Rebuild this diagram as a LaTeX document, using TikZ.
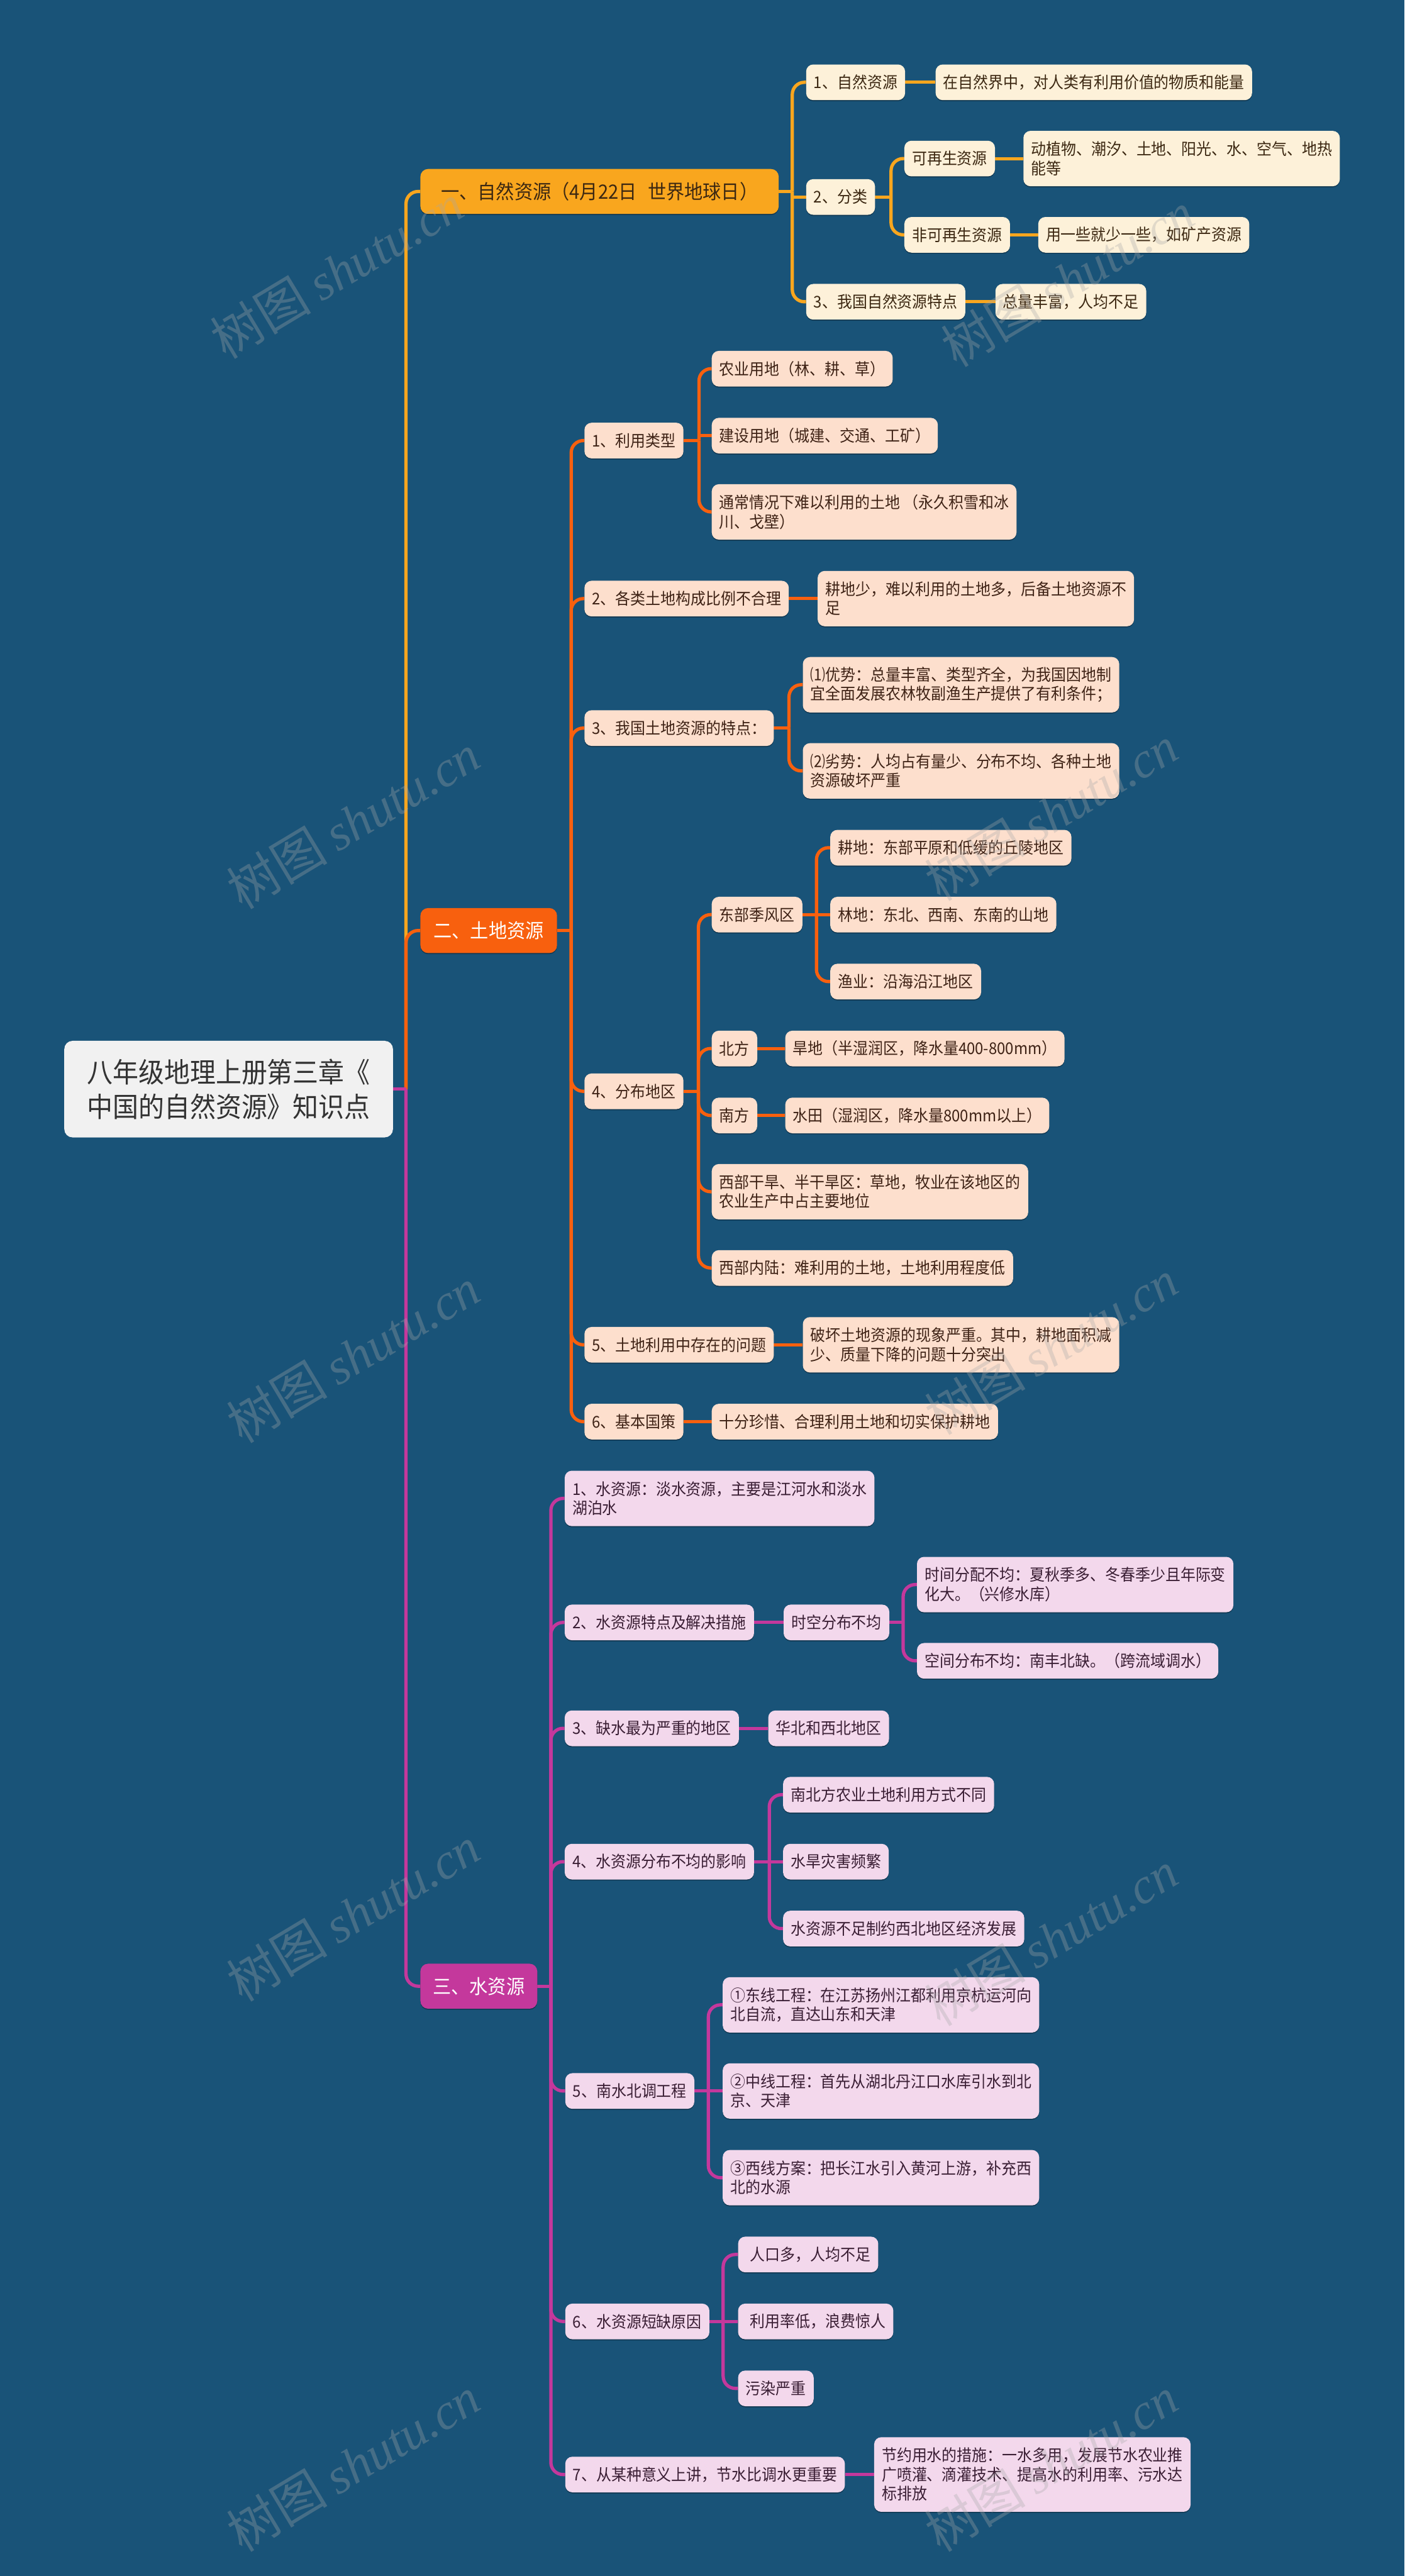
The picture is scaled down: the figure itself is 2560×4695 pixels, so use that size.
\documentclass[tikz,border=0pt]{standalone}
\usepackage{fontspec}
\setmainfont{Noto Sans CJK SC}[FakeStretch=0.93]
\newfontfamily\wmserif{Liberation Serif}
\newfontfamily\wmcjk{Noto Sans CJK SC}
\usetikzlibrary{shadows}
\definecolor{bgc}{HTML}{195378}
\definecolor{gold}{HTML}{F9A61E}
\definecolor{orng}{HTML}{F8600E}
\definecolor{mag}{HTML}{C4389C}
\definecolor{cream}{HTML}{FDF1D9}
\definecolor{peach}{HTML}{FDDFCD}
\definecolor{pinkf}{HTML}{F3D8EC}
\definecolor{rootfill}{HTML}{F1F1F1}
\definecolor{txtA}{HTML}{3C2812}
\definecolor{txtB}{HTML}{3F2316}
\definecolor{txtC}{HTML}{3A1E34}
\definecolor{wmc}{HTML}{A8A8A8}
\newcommand{\fsK}{\fontsize{29.5pt}{35pt}\selectfont}
\newcommand{\fsM}{\fontsize{36pt}{42pt}\selectfont}
\newcommand{\fsR}{\fontsize{50.5pt}{63pt}\selectfont}
\newcommand{\fsW}{\fontsize{92pt}{92pt}\selectfont}
\newcommand{\mmlink}[4]{%
  \draw[#1] (#2.east) -- (#3 |- #2.east);
  \draw[#1, rounded corners=22pt] (#3 |- #2.east) |- (#4.west);}
\newcommand{\mmflat}[3]{\draw[#1] (#2.east) -- (#3.west |- #2.east);}
\newcommand{\mmmid}[4]{%
  \draw[#1] (#2.east) -- (#3 |- #2.east);
  \draw[#1] (#3 |- #4.west) -- (#4.west);}
\pgfdeclarelayer{back}
\pgfdeclarelayer{lines}
\pgfsetlayers{back,lines,main}
\begin{document}
\begin{tikzpicture}[x=1pt,y=-1pt,
  box/.style={rounded corners=13pt, inner xsep=14pt, inner ysep=3pt, anchor=west, align=left, font=\fsK,
              drop shadow={shadow xshift=0pt, shadow yshift=-2pt, opacity=0.3, fill=black}},
  l1/.style={minimum height=65pt},
  l2/.style={minimum height=101pt},
  l3/.style={minimum height=136pt},
  kidA/.style={box, l1, fill=cream, text=txtA},
  kidB/.style={box, l1, fill=peach, text=txtB},
  kidC/.style={box, l1, fill=pinkf, text=txtC},
  mainbox/.style={rounded corners=14pt, inner xsep=8pt, anchor=west, font=\fsM, minimum height=82pt,
              drop shadow={shadow xshift=0pt, shadow yshift=-2pt, opacity=0.3, fill=black}},
  lnA/.style={draw=gold, line width=6pt},
  lnB/.style={draw=orng, line width=6pt},
  lnC/.style={draw=mag, line width=6pt},
  wm/.style={text=wmc, opacity=0.32, font=\fsW, rotate=31, inner sep=0pt}]
\useasboundingbox (0,0) rectangle (2560,4695);
\begin{pgfonlayer}{back}
\fill[bgc] (0,0) rectangle (2560,4695);
\end{pgfonlayer}

% root and main branches
\node[rounded corners=15pt, fill=rootfill, text=black!80, font=\fsR, align=center, anchor=west,
      minimum width=599pt, minimum height=176pt] (root) at (117,1985)
      {八年级地理上册第三章《\\中国的自然资源》知识点};
\node[mainbox, fill=gold, text=txtA, minimum width=653pt] (m1) at (766,349)
      {一、自然资源（4月22日\hspace{0.55em}世界地球日）};
\node[mainbox, fill=orng, text=white, minimum width=249pt] (m2) at (766,1696) {二、土地资源};
\node[mainbox, fill=mag, text=white, minimum width=213pt] (m3) at (766,3620) {三、水资源};

% branch 1
\node[kidA] (a1) at (1469,150) {1、自然资源};
\node[kidA] (a1d) at (1705,150) {在自然界中，对人类有利用价值的物质和能量};
\node[kidA] (a2) at (1469,359) {2、分类};
\node[kidA] (a21) at (1648,289) {可再生资源};
\node[kidA, l2] (a21d) at (1865,289) {动植物、潮汐、土地、阳光、水、空气、地热\\能等};
\node[kidA] (a22) at (1648,428) {非可再生资源};
\node[kidA] (a22d) at (1892,428) {用一些就少一些，如矿产资源};
\node[kidA] (a3) at (1469,550) {3、我国自然资源特点};
\node[kidA] (a3d) at (1814,550) {总量丰富，人均不足};

% branch 2
\node[kidB] (b1) at (1065,803) {1、利用类型};
\node[kidB] (b11) at (1297,672) {农业用地（林、耕、草）};
\node[kidB] (b12) at (1297,794) {建设用地（城建、交通、工矿）};
\node[kidB, l2] (b13) at (1297,933) {通常情况下难以利用的土地 （永久积雪和冰\\川、戈壁）};
\node[kidB] (b2) at (1065,1091) {2、各类土地构成比例不合理};
\node[kidB, l2] (b2d) at (1490,1091) {耕地少，难以利用的土地多，后备土地资源不\\足};
\node[kidB] (b3) at (1065,1327) {3、我国土地资源的特点：};
\node[kidB, l2] (b31) at (1463,1248) {⑴优势：总量丰富、类型齐全，为我国因地制\\宜全面发展农林牧副渔生产提供了有利条件；};
\node[kidB, l2] (b32) at (1463,1405) {⑵劣势：人均占有量少、分布不均、各种土地\\资源破坏严重};
\node[kidB] (b4) at (1065,1989) {4、分布地区};
\node[kidB] (b41) at (1297,1667) {东部季风区};
\node[kidB] (b411) at (1513,1545) {耕地：东部平原和低缓的丘陵地区};
\node[kidB] (b412) at (1513,1667) {林地：东北、西南、东南的山地};
\node[kidB] (b413) at (1513,1789) {渔业：沿海沿江地区};
\node[kidB] (b42) at (1297,1911) {北方};
\node[kidB] (b42d) at (1431,1911) {旱地（半湿润区，降水量400-800mm）};
\node[kidB] (b43) at (1297,2033) {南方};
\node[kidB] (b43d) at (1431,2033) {水田（湿润区，降水量800mm以上）};
\node[kidB, l2] (b44) at (1297,2172) {西部干旱、半干旱区：草地，牧业在该地区的\\农业生产中占主要地位};
\node[kidB] (b45) at (1297,2311) {西部内陆：难利用的土地，土地利用程度低};
\node[kidB] (b5) at (1065,2451) {5、土地利用中存在的问题};
\node[kidB, l2] (b5d) at (1463,2451) {破坏土地资源的现象严重。其中，耕地面积减\\少、质量下降的问题十分突出};
\node[kidB] (b6) at (1065,2591) {6、基本国策};
\node[kidB] (b6d) at (1297,2591) {十分珍惜、合理利用土地和切实保护耕地};

% branch 3
\node[kidC, l2] (c1) at (1029,2731) {1、水资源：淡水资源，主要是江河水和淡水\\湖泊水};
\node[kidC] (c2) at (1029,2957) {2、水资源特点及解决措施};
\node[kidC] (c21) at (1428,2957) {时空分布不均};
\node[kidC, l2] (c211) at (1671,2888) {时间分配不均：夏秋季多、冬春季少且年际变\\化大。（兴修水库）};
\node[kidC] (c212) at (1671,3027) {空间分布不均：南丰北缺。（跨流域调水）};
\node[kidC] (c3) at (1029,3150) {3、缺水最为严重的地区};
\node[kidC] (c3d) at (1400,3150) {华北和西北地区};
\node[kidC] (c4) at (1029,3393) {4、水资源分布不均的影响};
\node[kidC] (c41) at (1427,3271) {南北方农业土地利用方式不同};
\node[kidC] (c42) at (1427,3393) {水旱灾害频繁};
\node[kidC] (c43) at (1427,3515) {水资源不足制约西北地区经济发展};
\node[kidC] (c5) at (1030,3811) {5、南水北调工程};
\node[kidC, l2] (c51) at (1317,3654) {①东线工程：在江苏扬州江都利用京杭运河向\\北自流，直达山东和天津};
\node[kidC, l2] (c52) at (1317,3811) {②中线工程：首先从湖北丹江口水库引水到北\\京、天津};
\node[kidC, l2] (c53) at (1317,3969) {③西线方案：把长江水引入黄河上游，补充西\\北的水源};
\node[kidC] (c6) at (1030,4231) {6、水资源短缺原因};
\node[kidC] (c61) at (1345,4109) {\hspace*{8pt}人口多，人均不足};
\node[kidC] (c62) at (1345,4231) {\hspace*{8pt}利用率低，浪费惊人};
\node[kidC] (c63) at (1345,4353) {污染严重};
\node[kidC] (c7) at (1030,4510) {7、从某种意义上讲，节水比调水更重要};
\node[kidC, l3] (c7d) at (1593,4510) {节约用水的措施：一水多用，发展节水农业推\\广喷灌、滴灌技术、提高水的利用率、污水达\\标排放};

% trunk coordinates
\coordinate (T0) at (740,0);
\coordinate (TA) at (1444,0);
\coordinate (TA2) at (1624,0);
\coordinate (TB) at (1041,0);
\coordinate (TB1) at (1274,0);
\coordinate (TB3) at (1438,0);
\coordinate (TB4) at (1273,0);
\coordinate (TB41) at (1488,0);
\coordinate (TC) at (1004,0);
\coordinate (TC2) at (1646,0);
\coordinate (TC4) at (1402,0);
\coordinate (TC5) at (1291,0);
\coordinate (TC6) at (1318,0);

\begin{pgfonlayer}{lines}
\mmlink{lnA}{root}{T0}{m1}
\mmlink{lnB}{root}{T0}{m2}
\mmlink{lnC}{root}{T0}{m3}
% branch 1
\mmlink{lnA}{m1}{TA}{a1}
\mmmid{lnA}{m1}{TA}{a2}
\mmlink{lnA}{m1}{TA}{a3}
\mmflat{lnA}{a1}{a1d}
\mmlink{lnA}{a2}{TA2}{a21}
\mmlink{lnA}{a2}{TA2}{a22}
\mmflat{lnA}{a21}{a21d}
\mmflat{lnA}{a22}{a22d}
\mmflat{lnA}{a3}{a3d}
% branch 2
\mmlink{lnB}{m2}{TB}{b1}
\mmlink{lnB}{m2}{TB}{b2}
\mmlink{lnB}{m2}{TB}{b3}
\mmlink{lnB}{m2}{TB}{b4}
\mmlink{lnB}{m2}{TB}{b5}
\mmlink{lnB}{m2}{TB}{b6}
\mmlink{lnB}{b1}{TB1}{b11}
\mmmid{lnB}{b1}{TB1}{b12}
\mmlink{lnB}{b1}{TB1}{b13}
\mmflat{lnB}{b2}{b2d}
\mmlink{lnB}{b3}{TB3}{b31}
\mmlink{lnB}{b3}{TB3}{b32}
\mmlink{lnB}{b4}{TB4}{b41}
\mmlink{lnB}{b4}{TB4}{b42}
\mmlink{lnB}{b4}{TB4}{b43}
\mmlink{lnB}{b4}{TB4}{b44}
\mmlink{lnB}{b4}{TB4}{b45}
\mmlink{lnB}{b41}{TB41}{b411}
\mmflat{lnB}{b41}{b412}
\mmlink{lnB}{b41}{TB41}{b413}
\mmflat{lnB}{b42}{b42d}
\mmflat{lnB}{b43}{b43d}
\mmflat{lnB}{b5}{b5d}
\mmflat{lnB}{b6}{b6d}
% branch 3
\mmlink{lnC}{m3}{TC}{c1}
\mmlink{lnC}{m3}{TC}{c2}
\mmlink{lnC}{m3}{TC}{c3}
\mmlink{lnC}{m3}{TC}{c4}
\mmlink{lnC}{m3}{TC}{c5}
\mmlink{lnC}{m3}{TC}{c6}
\mmlink{lnC}{m3}{TC}{c7}
\mmflat{lnC}{c2}{c21}
\mmlink{lnC}{c21}{TC2}{c211}
\mmlink{lnC}{c21}{TC2}{c212}
\mmflat{lnC}{c3}{c3d}
\mmlink{lnC}{c4}{TC4}{c41}
\mmflat{lnC}{c4}{c42}
\mmlink{lnC}{c4}{TC4}{c43}
\mmlink{lnC}{c5}{TC5}{c51}
\mmflat{lnC}{c5}{c52}
\mmlink{lnC}{c5}{TC5}{c53}
\mmlink{lnC}{c6}{TC6}{c61}
\mmflat{lnC}{c6}{c62}
\mmlink{lnC}{c6}{TC6}{c63}
\mmflat{lnC}{c7}{c7d}
\end{pgfonlayer}

% watermarks
\node[wm] (w1) at (614,494) {{\wmcjk 树图} {\wmserif\itshape shutu.cn}};
\node[wm] (w2) at (1946,509) {{\wmcjk 树图} {\wmserif\itshape shutu.cn}};
\node[wm] (w3) at (644,1497) {{\wmcjk 树图} {\wmserif\itshape shutu.cn}};
\node[wm] (w4) at (1916,1482) {{\wmcjk 树图} {\wmserif\itshape shutu.cn}};
\node[wm] (w5) at (644,2470) {{\wmcjk 树图} {\wmserif\itshape shutu.cn}};
\node[wm] (w6) at (1916,2455) {{\wmcjk 树图} {\wmserif\itshape shutu.cn}};
\node[wm] (w7) at (644,3488) {{\wmcjk 树图} {\wmserif\itshape shutu.cn}};
\node[wm] (w8) at (1916,3533) {{\wmcjk 树图} {\wmserif\itshape shutu.cn}};
\node[wm] (w9) at (644,4491) {{\wmcjk 树图} {\wmserif\itshape shutu.cn}};
\node[wm] (w10) at (1916,4491) {{\wmcjk 树图} {\wmserif\itshape shutu.cn}};
\end{tikzpicture}
\end{document}
